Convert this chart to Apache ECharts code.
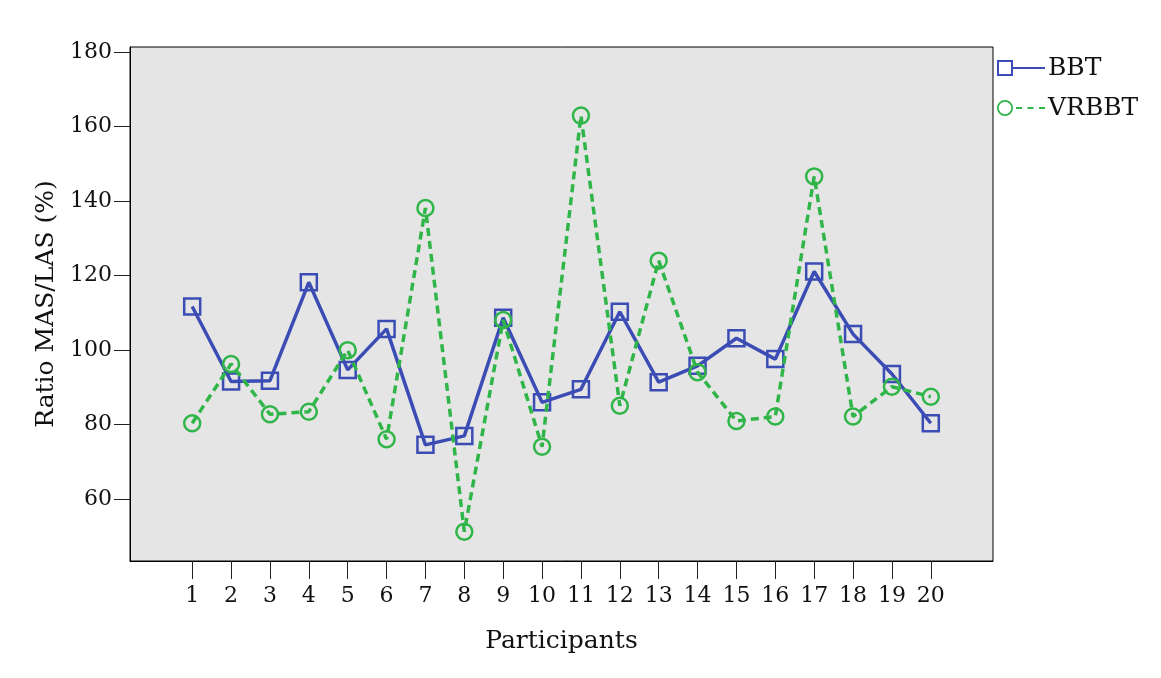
<!DOCTYPE html>
<html>
<head>
<meta charset="utf-8">
<script src="https://cdn.jsdelivr.net/npm/echarts@6/dist/echarts.min.js"></script>
<style>
html,body{margin:0;padding:0;background:#fff;}
#chart{width:1161px;height:678px;}
</style>
</head>
<body>
<div id="chart"></div>
<script>
const participants = [1,2,3,4,5,6,7,8,9,10,11,12,13,14,15,16,17,18,19,20];
const bbt = [111.7,91.6,91.8,118.2,94.7,105.7,74.6,77.0,108.7,86.0,89.5,110.3,91.4,95.8,103.2,97.6,121.1,104.3,93.6,80.4];
const vrbbt = [80.4,96.3,82.8,83.5,100.0,76.1,138.1,51.3,108.1,74.1,162.9,85.1,124.0,94.1,81.0,82.2,146.6,82.2,90.2,87.5];
const yTicks = [60,80,100,120,140,160,180];
const seriesNames = ['BBT','VRBBT'];

const BLUE = '#3b4cb4';
const GREEN = '#2fb548';
const FONT = 'DejaVu Serif';

const bbtIcon = 'path://M0 0H16V16H0Z M2 2V14H14V2Z M16 7H48V9H16Z';
const vrIcon = 'path://M0 8A8 8 0 1 1 16 8A8 8 0 1 1 0 8Z M1.8 8A6.2 6.2 0 1 0 14.2 8A6.2 6.2 0 1 0 1.8 8Z M19 7H25V9H19Z M30.5 7H36.5V9H30.5Z M42 7H48V9H42Z';

const chart = echarts.init(document.getElementById('chart'), null, {renderer:'canvas'});
chart.setOption({
  animation: false,
  backgroundColor: '#fff',
  grid: {
    left: 130, right: 168, top: 47, bottom: 117,
    show: true, backgroundColor: '#e5e5e5', borderColor: '#000', borderWidth: 1,
    containLabel: false
  },
  legend: {
    orient: 'vertical',
    left: 997, top: 55,
    padding: 0,
    itemWidth: 48, itemHeight: 16, itemGap: 14,
    symbolKeepAspect: false,
    textStyle: {fontFamily: FONT, fontSize: 25, color: '#111', lineHeight: 26, padding: [0,0,0,-2]},
    data: [
      {name: seriesNames[0], icon: bbtIcon, itemStyle: {color: BLUE, borderWidth: 0, borderColor: 'transparent'}},
      {name: seriesNames[1], icon: vrIcon, itemStyle: {color: GREEN, borderWidth: 0, borderColor: 'transparent'}}
    ]
  },
  xAxis: {
    type: 'value',
    min: -0.6, max: 21.6,
    position: 'bottom',
    name: 'Participants',
    nameLocation: 'middle',
    nameGap: 68,
    nameTextStyle: {fontFamily: FONT, fontSize: 25, color: '#111'},
    axisLine: {show: true, onZero: false, lineStyle: {color: '#000', width: 1}},
    axisTick: {show: true, inside: false, length: 18, lineStyle: {color: '#222', width: 1}, customValues: participants},
    axisLabel: {show: true, fontFamily: FONT, fontSize: 22, color: '#111', margin: 24, customValues: participants, formatter: v => String(v)},
    splitLine: {show: false}
  },
  yAxis: {
    type: 'value',
    min: 43.45, max: 181.3,
    position: 'left',
    name: 'Ratio MAS/LAS (%)',
    nameLocation: 'middle',
    nameGap: 63,
    nameRotate: 90,
    nameTextStyle: {fontFamily: FONT, fontSize: 25, color: '#111'},
    axisLine: {show: true, onZero: false, lineStyle: {color: '#000', width: 1}},
    axisTick: {show: true, inside: false, length: 16, lineStyle: {color: '#222', width: 1}, customValues: yTicks},
    axisLabel: {fontFamily: FONT, fontSize: 22, color: '#111', margin: 18, customValues: yTicks, formatter: v => String(v)},
    splitLine: {show: false}
  },
  series: [
    {
      name: seriesNames[0],
      type: 'line',
      data: participants.map((p, i) => [p, bbt[i]]),
      symbol: 'rect',
      symbolSize: 16,
      itemStyle: {color: 'transparent', borderColor: BLUE, borderWidth: 2.5},
      lineStyle: {color: BLUE, width: 3.5},
      z: 2
    },
    {
      name: seriesNames[1],
      type: 'line',
      data: participants.map((p, i) => [p, vrbbt[i]]),
      symbol: 'circle',
      symbolSize: 16,
      itemStyle: {color: 'transparent', borderColor: GREEN, borderWidth: 2.5},
      lineStyle: {color: GREEN, width: 3.5, type: [8,5]},
      z: 3
    }
  ]
});
</script>
</body>
</html>
